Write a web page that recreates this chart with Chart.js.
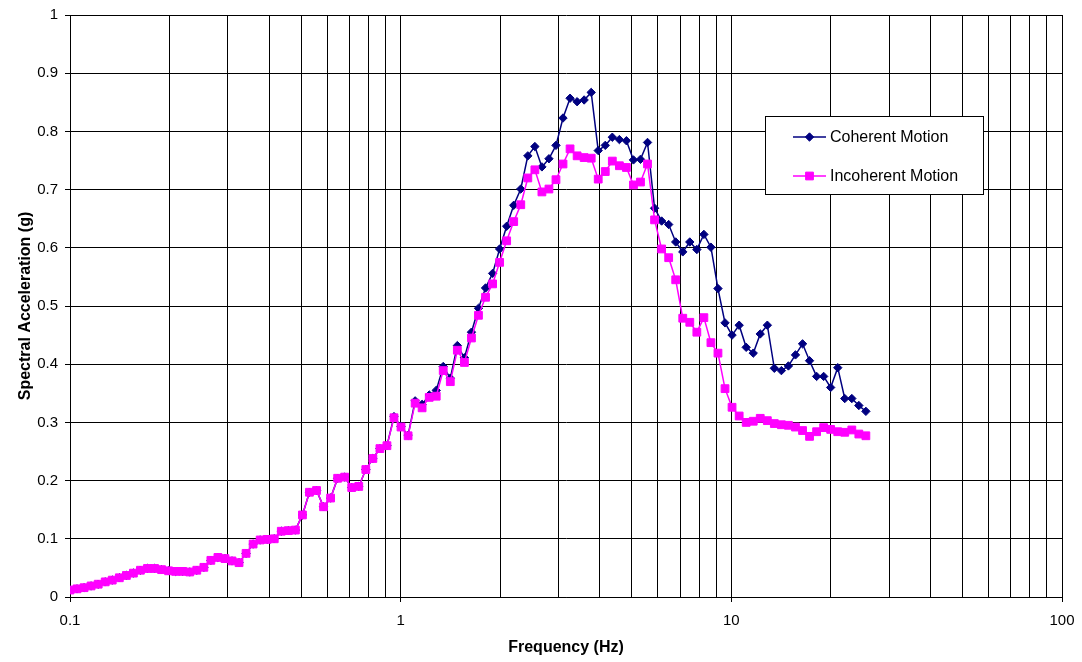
<!DOCTYPE html>
<html>
<head>
<meta charset="utf-8">
<title>Spectral Acceleration</title>
<script src="https://cdn.jsdelivr.net/npm/chart.js@4.4.1/dist/chart.umd.min.js"></script>
<style>
  html, body { margin: 0; padding: 0; background: #fff; }
  #wrap { width: 1082px; height: 662px; }
</style>
</head>
<body>
<div id="wrap"><canvas id="chart" width="1082" height="662"></canvas></div>
<script>
// Frequencies (Hz)
const freqHz = [
  0.100, 0.1050, 0.1103, 0.1158, 0.1217, 0.1278, 0.1342, 0.1410, 0.1481, 0.1555,
  0.1633, 0.1715, 0.1802, 0.1892, 0.1987, 0.2087, 0.2192, 0.2302, 0.2418, 0.2540,
  0.2667, 0.2801, 0.2942, 0.3090, 0.3245, 0.3408, 0.3579, 0.3759, 0.3948, 0.4147,
  0.4355, 0.4574, 0.4804, 0.5046, 0.5299, 0.5566, 0.5845, 0.6139, 0.6448, 0.6772,
  0.7112, 0.7470, 0.7845, 0.8240, 0.8654, 0.9089, 0.9546, 1.0025, 1.053, 1.106,
  1.161, 1.220, 1.281, 1.345, 1.413, 1.484, 1.559, 1.637, 1.719, 1.806,
  1.897, 1.992, 2.092, 2.197, 2.308, 2.424, 2.546, 2.674, 2.808, 2.949,
  3.097, 3.253, 3.417, 3.588, 3.769, 3.958, 4.157, 4.366, 4.586, 4.816,
  5.058, 5.312, 5.579, 5.860, 6.154, 6.464, 6.789, 7.130, 7.488, 7.865,
  8.260, 8.675, 9.111, 9.570, 10.05, 10.56, 11.09, 11.65, 12.23, 12.85,
  13.49, 14.17, 14.88, 15.63, 16.42, 17.24, 18.11, 19.02, 19.97, 20.98,
  22.03, 23.14, 24.30, 25.52
];

// Spectral acceleration (g)
const coherentG = [
  0.012, 0.014, 0.016, 0.019, 0.022, 0.026, 0.029, 0.033, 0.037, 0.041,
  0.046, 0.049, 0.049, 0.047, 0.045, 0.044, 0.044, 0.043, 0.046, 0.051,
  0.063, 0.068, 0.066, 0.062, 0.059, 0.075, 0.091, 0.098, 0.099, 0.100,
  0.113, 0.114, 0.115, 0.141, 0.180, 0.183, 0.155, 0.170, 0.204, 0.206,
  0.188, 0.190, 0.219, 0.238, 0.255, 0.260, 0.310, 0.293, 0.278, 0.337,
  0.331, 0.347, 0.355, 0.396, 0.376, 0.432, 0.411, 0.455, 0.496, 0.531,
  0.556, 0.598, 0.637, 0.673, 0.701, 0.758, 0.774, 0.739, 0.753, 0.776,
  0.823, 0.857, 0.851, 0.854, 0.867, 0.767, 0.776, 0.790, 0.786, 0.784,
  0.751, 0.752, 0.781, 0.668, 0.646, 0.640, 0.610, 0.593, 0.610, 0.597,
  0.623, 0.601, 0.530, 0.471, 0.450, 0.467, 0.429, 0.419, 0.452, 0.467,
  0.393, 0.389, 0.397, 0.416, 0.435, 0.406, 0.379, 0.379, 0.360, 0.394,
  0.341, 0.341, 0.329, 0.319
];

const incoherentG = [
  0.012, 0.014, 0.016, 0.019, 0.022, 0.026, 0.029, 0.033, 0.037, 0.041,
  0.046, 0.049, 0.049, 0.047, 0.045, 0.044, 0.044, 0.043, 0.046, 0.051,
  0.063, 0.068, 0.066, 0.062, 0.059, 0.075, 0.091, 0.098, 0.099, 0.100,
  0.113, 0.114, 0.115, 0.141, 0.180, 0.183, 0.155, 0.170, 0.204, 0.206,
  0.188, 0.190, 0.219, 0.238, 0.255, 0.260, 0.308, 0.292, 0.277, 0.333,
  0.325, 0.343, 0.345, 0.389, 0.370, 0.424, 0.403, 0.445, 0.484, 0.515,
  0.538, 0.575, 0.612, 0.645, 0.674, 0.720, 0.734, 0.696, 0.701, 0.717,
  0.744, 0.770, 0.758, 0.755, 0.754, 0.718, 0.731, 0.749, 0.741, 0.738,
  0.708, 0.713, 0.744, 0.648, 0.598, 0.583, 0.545, 0.479, 0.472, 0.455,
  0.480, 0.437, 0.419, 0.358, 0.326, 0.311, 0.300, 0.302, 0.307, 0.303,
  0.298, 0.296, 0.295, 0.292, 0.286, 0.276, 0.284, 0.291, 0.288, 0.284,
  0.283, 0.287, 0.280, 0.277
];

// Axis ticks
const xTickValues = [
  0.1, 0.2, 0.3, 0.4, 0.5, 0.6, 0.7, 0.8, 0.9,
  1, 2, 3, 4, 5, 6, 7, 8, 9,
  10, 20, 30, 40, 50, 60, 70, 80, 90, 100
];
const xTickLabels = [0.1, 1, 10, 100];

const toPoints = (ys) => ys.map((y, i) => ({ x: freqHz[i], y: y }));
const isDecade = (v) => xTickLabels.some(d => Math.abs(d - v) < 1e-9);

Chart.defaults.font.family = '"Liberation Sans", Arial, sans-serif';
Chart.defaults.color = '#000';

// legend drawn as a boxed key inside the plot, like the original
const legendBox = {
  id: 'legendBox',
  afterDraw(chart) {
    const ctx = chart.ctx;
    ctx.save();
    ctx.fillStyle = '#fff';
    ctx.strokeStyle = '#000';
    ctx.lineWidth = 1;
    ctx.fillRect(765.5, 116.5, 218, 78);
    ctx.strokeRect(765.5, 116.5, 218, 78);
    chart.data.datasets.forEach((ds, i) => {
      const y = 137 + i * 39;
      ctx.strokeStyle = ds.borderColor;
      ctx.lineWidth = 1.5;
      ctx.beginPath();
      ctx.moveTo(793, y);
      ctx.lineTo(826, y);
      ctx.stroke();
      ctx.fillStyle = ds.pointBackgroundColor;
      ctx.strokeStyle = ds.borderColor;
      ctx.lineWidth = 1;
      Chart.helpers.drawPoint(ctx, { pointStyle: ds.pointStyle, radius: ds.pointRadius, rotation: 0, borderWidth: 1 }, 809.5, y);
      ctx.fillStyle = '#000';
      ctx.font = '16px "Liberation Sans", Arial, sans-serif';
      ctx.textBaseline = 'middle';
      ctx.textAlign = 'left';
      ctx.fillText(ds.label, 830, y + 1);
    });
    ctx.restore();
  }
};

new Chart(document.getElementById('chart'), {
  type: 'line',
  data: {
    datasets: [
      {
        label: 'Coherent Motion',
        data: toPoints(coherentG),
        borderColor: '#000080',
        backgroundColor: '#000080',
        pointBackgroundColor: '#000080',
        pointBorderColor: '#000080',
        pointStyle: 'rectRot',
        pointRadius: 4.2,
        pointBorderWidth: 1,
        borderWidth: 1.5,
        tension: 0,
        order: 2
      },
      {
        label: 'Incoherent Motion',
        data: toPoints(incoherentG),
        borderColor: '#ff00ff',
        backgroundColor: '#ff00ff',
        pointBackgroundColor: '#ff00ff',
        pointBorderColor: '#ff00ff',
        pointStyle: 'rect',
        pointRadius: 5.5,
        pointBorderWidth: 1,
        borderWidth: 1.5,
        tension: 0,
        order: 1
      }
    ]
  },
  options: {
    responsive: false,
    animation: false,
    layout: { padding: { top: 15, right: 20, left: 0, bottom: 0 } },
    plugins: {
      legend: { display: false },
      tooltip: { enabled: false }
    },
    scales: {
      x: {
        type: 'logarithmic',
        min: 0.1,
        max: 100,
        afterBuildTicks: (s) => { s.ticks = xTickValues.map(v => ({ value: v })); },
        afterFit: (s) => { s.height = 65; s.paddingLeft = 0; s.paddingRight = 0; },
        border: { color: '#000', width: 1 },
        grid: {
          color: '#000',
          lineWidth: 1,
          tickLength: 5,
          tickColor: (c) => (c.tick && isDecade(c.tick.value)) ? '#000' : 'rgba(0,0,0,0)'
        },
        ticks: {
          autoSkip: false,
          maxRotation: 0,
          padding: 10,
          font: { size: 15 },
          callback: (v) => isDecade(v) ? String(v) : ''
        },
        title: {
          display: true,
          text: 'Frequency (Hz)',
          font: { size: 16, weight: 'bold' },
          padding: { top: 0, bottom: 5 }
        }
      },
      y: {
        min: 0,
        max: 1,
        afterFit: (s) => { s.width = 70; s.paddingTop = 0; s.paddingBottom = 0; },
        border: { color: '#000', width: 1 },
        grid: { color: '#000', lineWidth: 1, tickLength: 5 },
        ticks: {
          stepSize: 0.1,
          padding: 7,
          font: { size: 15 },
          callback: (v) => String(Math.round(v * 10) / 10)
        },
        title: {
          display: true,
          text: 'Spectral Acceleration (g)',
          font: { size: 16, weight: 'bold' },
          padding: { top: 16, bottom: 0 }
        }
      }
    }
  },
  plugins: [legendBox]
});
</script>
</body>
</html>
